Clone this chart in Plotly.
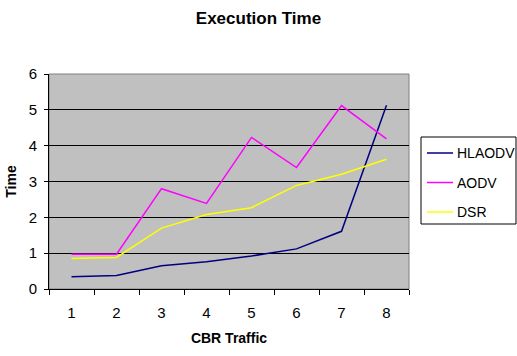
import plotly.graph_objects as go

# CBR traffic levels and execution time per protocol
cbr_traffic = ["1", "2", "3", "4", "5", "6", "7", "8"]
hlaodv = [0.34, 0.38, 0.65, 0.76, 0.92, 1.12, 1.61, 5.13]
aodv = [0.97, 0.97, 2.80, 2.39, 4.23, 3.39, 5.12, 4.19]
dsr = [0.85, 0.88, 1.70, 2.08, 2.27, 2.89, 3.20, 3.62]

series = [
    ("HLAODV", hlaodv, "#000080"),
    ("AODV", aodv, "#FF00FF"),
    ("DSR", dsr, "#FFFF00"),
]

font_family = "Liberation Sans, Arial, sans-serif"

W, H = 517, 356
L, R, T, B = 49, 108, 74, 67
pw, ph = W - L - R, H - T - B


def px_x(x):
    return (x - L) / pw


def px_y(y):
    return (H - B - y) / ph


fig = go.Figure()
for name, values, color in series:
    fig.add_trace(go.Scatter(
        x=cbr_traffic, y=values, name=name, mode="lines",
        line=dict(color=color, width=1.5), showlegend=False,
    ))

# grey frame around the plotting area
fig.add_shape(type="rect", xref="paper", yref="paper", x0=0, x1=1, y0=0, y1=1,
              line=dict(color="#808080", width=1), layer="below")

# legend box with line samples and labels
fig.add_shape(type="rect", xref="paper", yref="paper",
              x0=px_x(421), x1=px_x(516), y0=px_y(224), y1=px_y(137),
              line=dict(color="black", width=1), fillcolor="white")
for i, (name, values, color) in enumerate(series):
    yy = 153 + i * 29.5
    fig.add_shape(type="line", xref="paper", yref="paper",
                  x0=px_x(427), x1=px_x(453), y0=px_y(yy), y1=px_y(yy),
                  line=dict(color=color, width=1.5))
    fig.add_annotation(xref="paper", yref="paper", x=px_x(455), y=px_y(yy),
                       xanchor="left", yanchor="middle", showarrow=False,
                       text=name, font=dict(size=14, family=font_family))

fig.update_layout(
    width=W, height=H,
    margin=dict(l=L, r=R, t=T, b=B),
    paper_bgcolor="white",
    plot_bgcolor="#C0C0C0",
    font=dict(family=font_family, size=14, color="black"),
    title=dict(text="<b>Execution Time</b>", x=0.5, xanchor="center",
               y=1 - 18 / H, yanchor="middle",
               font=dict(size=17, family=font_family)),
    showlegend=False,
    xaxis=dict(
        type="category", tickson="boundaries", range=[-0.5, 7.5],
        showgrid=False, zeroline=False, automargin=False,
        showline=True, linecolor="black", linewidth=1,
        ticks="outside", ticklen=5, tickcolor="black", tickwidth=1,
        tickfont=dict(size=15), ticklabelstandoff=10,
        title=dict(text="<b>CBR Traffic</b>", font=dict(size=14), standoff=13),
    ),
    yaxis=dict(
        range=[0, 6], dtick=1, tick0=0,
        showgrid=True, gridcolor="black", gridwidth=1,
        zeroline=False, automargin=False,
        showline=True, linecolor="black", linewidth=1,
        ticks="outside", ticklen=4, tickcolor="black",
        tickfont=dict(size=15), ticklabelstandoff=4,
        title=dict(text="<b>Time</b>", font=dict(size=14), standoff=8),
    ),
)

fig.write_html("out.html")
